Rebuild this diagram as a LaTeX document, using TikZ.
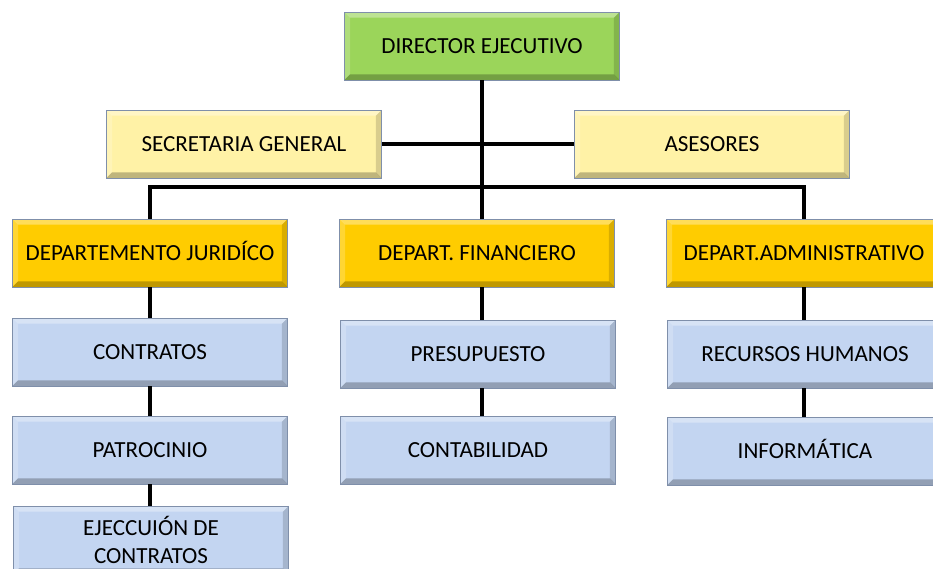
\documentclass[tikz,border=0pt]{standalone}
\usepackage{fontspec}
\setmainfont{Carlito}
\usetikzlibrary{positioning}
\definecolor{verde}{HTML}{9BD55A}
\definecolor{crema}{HTML}{FFF2A6}
\definecolor{oro}{HTML}{FFCC00}
\definecolor{celeste}{HTML}{C3D5F1}
\definecolor{borde}{HTML}{7F8FAA}

\begin{document}
\begin{tikzpicture}[
		x=0.025cm, y=-0.025cm,
		bisel/.style={path picture={
			\fill[white,opacity=0.35] (path picture bounding box.north west) -- (path picture bounding box.north east)
				-- ([xshift=-4pt,yshift=-4pt]path picture bounding box.north east) -- ([xshift=4pt,yshift=-4pt]path picture bounding box.north west) -- cycle;
			\fill[white,opacity=0.2] (path picture bounding box.north west) -- (path picture bounding box.south west)
				-- ([xshift=4pt,yshift=4pt]path picture bounding box.south west) -- ([xshift=4pt,yshift=-4pt]path picture bounding box.north west) -- cycle;
			\fill[black,opacity=0.25] (path picture bounding box.south west) -- (path picture bounding box.south east)
				-- ([xshift=-4pt,yshift=4pt]path picture bounding box.south east) -- ([xshift=4pt,yshift=4pt]path picture bounding box.south west) -- cycle;
			\fill[black,opacity=0.15] (path picture bounding box.north east) -- (path picture bounding box.south east)
				-- ([xshift=-4pt,yshift=4pt]path picture bounding box.south east) -- ([xshift=-4pt,yshift=-4pt]path picture bounding box.north east) -- cycle;
		}},
		caja/.style={rectangle, bisel, draw=borde, thin, minimum width=6.875cm, minimum height=1.7cm,
			inner sep=2pt, align=center, font=\fontsize{16.4}{20}\selectfont},
		jefe/.style={caja, fill=verde},
		staff/.style={caja, fill=crema},
		depto/.style={caja, fill=oro},
		unidad/.style={caja, fill=celeste},
		linea/.style={line width=2.8pt, draw=black}
	]
		\useasboundingbox (0,0) rectangle (933,569);
		\node[jefe] (director) at (482,46) {DIRECTOR EJECUTIVO};
		\node[staff] (secretaria) at (244,144) {SECRETARIA GENERAL};
		\node[staff] (asesores) at (712,144) {ASESORES};
		\node[depto] (juridico) at (150,253) {DEPARTEMENTO JURID\smash{Í}CO};
		\node[depto] (financiero) at (477,253) {DEPART. FINANCIERO};
		\node[depto] (administrativo) at (804,253) {DEPART.ADMINISTRATIVO};
		\node[unidad] (contratos) at (150,352) {CONTRATOS};
		\node[unidad] (patrocinio) at (150,450) {PATROCINIO};
		\node[unidad] (ejecucion) at (151,540) {EJECCUIÓN DE\\CONTRATOS};
		\node[unidad] (presupuesto) at (478,354) {PRESUPUESTO};
		\node[unidad] (contabilidad) at (478,450) {CONTABILIDAD};
		\node[unidad] (recursos) at (805,354) {RECURSOS HUMANOS};
		\node[unidad] (informatica) at (805,451) {INFORM\smash{Á}TICA};
		% lineas de mando
		\coordinate (barra) at (482,187);
		\draw[linea] (secretaria.east) -- (asesores.west);
		\draw[linea] (director.south) -- (director.south |- financiero.north);
		\draw[linea] (juridico.north) |- (barra) -| (administrativo.north);
		\draw[linea] (juridico.south) -- (contratos.north);
		\draw[linea] (contratos.south) -- (patrocinio.north);
		\draw[linea] (patrocinio.south) -- (ejecucion.north -| patrocinio.south);
		\draw[linea] (financiero.south -| director.south) -- (presupuesto.north -| director.south);
		\draw[linea] (presupuesto.south -| director.south) -- (contabilidad.north -| director.south);
		\draw[linea] (administrativo.south) -- (recursos.north -| administrativo.south);
		\draw[linea] (recursos.south -| administrativo.south) -- (informatica.north -| administrativo.south);
	\end{tikzpicture}
\end{document}
